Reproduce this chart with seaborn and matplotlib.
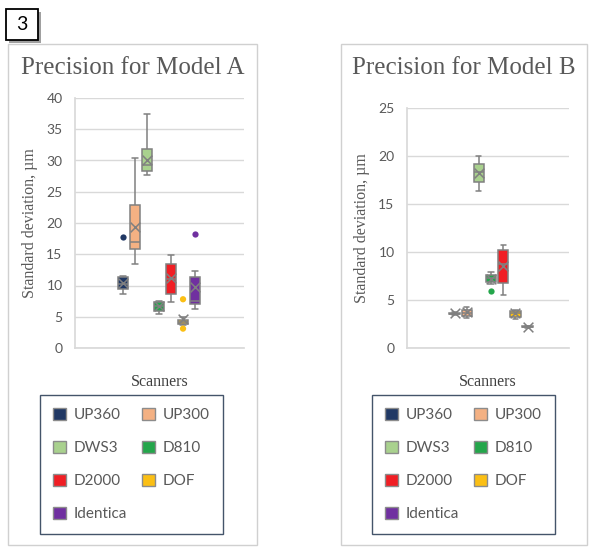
import pandas as pd
import numpy as np
import matplotlib.pyplot as plt
import seaborn as sns

# scanners and colours
scanners = ["UP360", "UP300", "DWS3", "D810", "D2000", "DOF", "Identica"]
colors = ["#203864", "#F4B183", "#A9D18E", "#24A64B", "#F01E24", "#FBBF14", "#7030A0"]

# Model A: whisker low, Q1, median, Q3, whisker high, mean
a_low = [8.7, 13.5, 27.6, 5.5, 7.3, 3.7, 6.3]
a_q1 = [9.5, 15.8, 28.3, 5.9, 8.7, 3.9, 7.0]
a_med = [10.2, 17.0, 29.2, 6.7, 11.0, 4.2, 7.5]
a_q3 = [11.3, 22.9, 31.8, 7.3, 13.5, 4.5, 11.4]
a_high = [11.5, 30.4, 37.4, 7.5, 14.9, 4.9, 12.3]
a_mean = [10.4, 19.4, 30.1, 6.7, 11.2, 4.7, 9.7]
a_out_names = ["UP360", "DOF", "DOF", "Identica"]
a_out_vals = [17.7, 7.8, 3.1, 18.3]

# Model B
b_low = [3.4, 3.1, 16.4, 6.7, 5.5, 3.0, 2.1]
b_q1 = [3.5, 3.3, 17.3, 6.9, 6.8, 3.2, 2.15]
b_med = [3.55, 3.6, 18.3, 7.3, 8.7, 3.6, 2.2]
b_q3 = [3.65, 4.0, 19.2, 7.6, 10.2, 3.9, 2.25]
b_high = [3.7, 4.3, 20.0, 7.9, 10.7, 3.95, 2.3]
b_mean = [3.6, 3.7, 18.2, 7.2, 8.5, 3.6, 2.2]
b_out_names = ["D810"]
b_out_vals = [5.9]

W, H = 589, 555
def fx(p):
    return p / W
def fy(p):
    return 1 - p / H

sns.set_theme(style="white")
plt.rcParams['font.family'] = ['Lato', 'DejaVu Sans']
gray_txt = "#595959"
line_gray = "#808080"
pal = dict(zip(scanners, colors))


def five_num(low, q1, med, q3, high):
    rows = []
    for i, s in enumerate(scanners):
        for v in [low[i], q1[i], med[i], q3[i], high[i]]:
            rows.append({"Scanner": s, "value": v})
    return pd.DataFrame(rows)


def panel(ax, low, q1, med, q3, high, mean, out_names, out_vals, ymax, xlim, title, cx):
    df = five_num(low, q1, med, q3, high)
    sns.boxplot(data=df, x="Scanner", y="value", hue="Scanner", order=scanners,
                hue_order=scanners, palette=pal, whis=(0, 100), width=0.85,
                linecolor=line_gray, linewidth=1.1, saturation=1, legend=False, ax=ax)
    means = pd.DataFrame({"Scanner": scanners, "value": mean})
    sns.stripplot(data=means, x="Scanner", y="value", order=scanners, jitter=False,
                  marker="x", color=line_gray, size=7, linewidth=1.1, ax=ax)
    outs = pd.DataFrame({"Scanner": out_names, "value": out_vals})
    sns.stripplot(data=outs, x="Scanner", y="value", hue="Scanner", order=scanners,
                  hue_order=scanners, palette=pal, jitter=False, size=4.5,
                  linewidth=0, legend=False, ax=ax)
    ax.set_ylim(0, ymax)
    ax.set_yticks(np.arange(0, ymax + 1, 5))
    ax.set_xlim(*xlim)
    ax.set_xticks([])
    ax.grid(axis="y", color="#D9D9D9", linewidth=1)
    ax.set_axisbelow(True)
    for side in ["top", "right"]:
        ax.spines[side].set_visible(False)
    ax.spines["left"].set_color("#D9D9D9")
    ax.spines["bottom"].set_color("#D9D9D9")
    ax.tick_params(axis="y", length=0, pad=9, labelsize=10, labelcolor=gray_txt)
    ax.set_ylabel("Standard deviation, µm", family="Liberation Serif", fontsize=11.5,
                  color=gray_txt, labelpad=6)
    ax.set_xlabel("Scanners", family="Liberation Serif", fontsize=11.5,
                  color="#404040", labelpad=19)
    fig.text(fx(cx), fy(68), title, family="Liberation Serif", fontsize=18,
             color=gray_txt, ha="center", va="center")


fig = plt.figure(figsize=(W / 100, H / 100), dpi=100)

# panel frames
for x0, x1 in [(8, 257), (341, 587)]:
    fig.add_artist(plt.Rectangle((fx(x0), fy(545)), fx(x1) - fx(x0), fy(44) - fy(545),
                                 transform=fig.transFigure, fill=False,
                                 edgecolor="#D0D0D0", linewidth=1))

axA = fig.add_axes([fx(75), fy(348), fx(244) - fx(75), fy(98) - fy(348)])
axB = fig.add_axes([fx(407), fy(348), fx(569) - fx(407), fy(108) - fy(348)])

panel(axA, a_low, a_q1, a_med, a_q3, a_high, a_mean, a_out_names, a_out_vals,
      40, (-4, 10.08), "Precision for Model A", 132.5)
panel(axB, b_low, b_q1, b_med, b_q3, b_high, b_mean, b_out_names, b_out_vals,
      25, (-3.9, 9.4), "Precision for Model B", 464)

# legends (row-wise order in two columns)
order = [0, 2, 4, 6, 1, 3, 5]
handles = [plt.Rectangle((0, 0), 1, 1, facecolor=colors[i], edgecolor="#8C8C8C",
                         linewidth=1) for i in order]
labels = [scanners[i] for i in order]
for x0, x1 in [(40, 223), (372, 555)]:
    leg = fig.legend(handles, labels, loc="upper left",
                     bbox_to_anchor=(fx(x0), fy(395), fx(x1) - fx(x0), 0),
                     mode="expand", ncol=2, frameon=True, fancybox=False,
                     edgecolor="#44546A", framealpha=1, fontsize=11,
                     labelspacing=1.22, handlelength=0.85, handleheight=0.85,
                     handletextpad=0.5, borderpad=0.85, borderaxespad=0,
                     columnspacing=1.0)
    leg.get_frame().set_linewidth(1)
    for t in leg.get_texts():
        t.set_color(gray_txt)

# the "3" label
fig.add_artist(plt.Rectangle((fx(9), fy(43)), fx(32), fy(9) - fy(40),
                             transform=fig.transFigure, facecolor="#A0A0A0",
                             edgecolor="none"))
fig.add_artist(plt.Rectangle((fx(6), fy(40)), fx(32), fy(9) - fy(40),
                             transform=fig.transFigure, facecolor="white",
                             edgecolor="black", linewidth=1.3))
fig.text(fx(22), fy(25), "3", fontsize=14, ha="center", va="center", color="black")

plt.savefig("out.png", dpi=100)
